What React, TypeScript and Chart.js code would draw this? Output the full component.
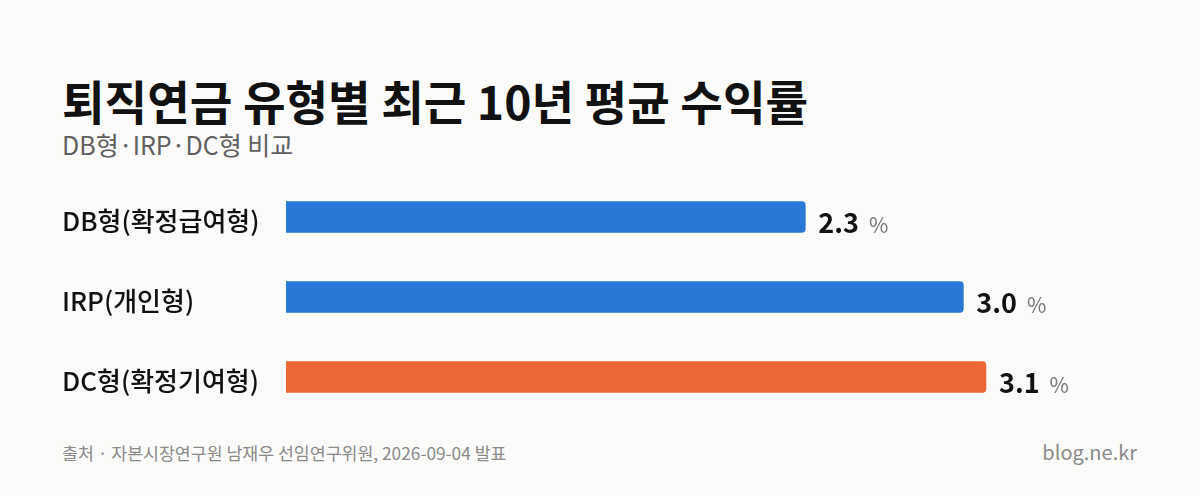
import { useEffect, useRef } from 'react';
import { Chart, registerables } from 'chart.js';

Chart.register(...registerables);

const categories = ['DB형(확정급여형)', 'IRP(개인형)', 'DC형(확정기여형)'];
const returns = [2.3, 3.0, 3.1];
const barColors = ['#2a78d6', '#2a78d6', '#eb6735'];

const FONT = '"Noto Sans CJK KR", "Noto Sans", sans-serif';

// draws "2.3 %" to the right of each bar
const valueLabels = {
  id: 'valueLabels',
  afterDatasetsDraw(chart: Chart) {
    const { ctx } = chart;
    const meta = chart.getDatasetMeta(0);
    ctx.save();
    meta.data.forEach((bar: any, i: number) => {
      const num = returns[i].toFixed(1);
      const x = bar.x + 13;
      const y = bar.y + 16;
      ctx.textBaseline = 'alphabetic';
      ctx.textAlign = 'left';
      ctx.font = `700 27px ${FONT}`;
      ctx.fillStyle = '#111111';
      ctx.fillText(num, x, y);
      const w = ctx.measureText(num).width;
      ctx.font = `400 21px ${FONT}`;
      ctx.fillStyle = '#777777';
      ctx.fillText('%', x + w + 10, y);
    });
    ctx.restore();
  },
};

function ReturnsChart() {
  const chartRef = useRef<HTMLCanvasElement>(null);
  const chartInstance = useRef<Chart | null>(null);

  useEffect(() => {
    if (!chartRef.current) return;
    const ctx = chartRef.current.getContext('2d');
    if (!ctx) return;

    chartInstance.current = new Chart(ctx, {
      type: 'bar',
      data: {
        labels: categories,
        datasets: [
          {
            data: returns,
            backgroundColor: barColors,
            borderRadius: 4,
            barThickness: 31,
          },
        ],
      },
      options: {
        indexAxis: 'y',
        animation: false,
        responsive: false,
        maintainAspectRatio: false,
        layout: { padding: 0 },
        plugins: {
          legend: { display: false },
          tooltip: { enabled: false },
        },
        scales: {
          x: {
            display: false,
            min: 0,
            max: 3.8,
          },
          y: {
            grid: { display: false },
            border: { display: false },
            ticks: {
              crossAlign: 'far',
              padding: 0,
              labelOffset: 4,
              color: '#111111',
              font: { family: FONT, size: 26, weight: 500, lineHeight: 1 },
            },
            afterFit: (scale: any) => {
              scale.width = 224;
            },
          },
        },
      },
      plugins: [valueLabels],
    });

    return () => {
      if (chartInstance.current) {
        chartInstance.current.destroy();
      }
    };
  }, []);

  // 13px extra above and below: half of a tick label's height
  return (
    <canvas
      ref={chartRef}
      width={1082}
      height={266}
      style={{ position: 'absolute', left: 62, top: 164, width: 1082, height: 266 }}
    />
  );
}

export default function App() {
  return (
    <div
      style={{
        position: 'absolute',
        left: 0,
        top: 0,
        width: 1200,
        height: 496,
        background: '#fbfbf9',
        fontFamily: FONT,
        overflow: 'hidden',
      }}
    >
      <div
        style={{
          position: 'absolute',
          left: 62,
          top: 77,
          fontSize: 46.3,
          lineHeight: '46px',
          fontWeight: 700,
          color: '#111111',
          whiteSpace: 'nowrap',
        }}
      >
        퇴직연금 유형별 최근 10년 평균 수익률
      </div>
      <div
        style={{
          position: 'absolute',
          left: 62,
          top: 132,
          fontSize: 25,
          lineHeight: '25px',
          color: '#5f5f5f',
          whiteSpace: 'nowrap',
        }}
      >
        DB형·IRP·DC형 비교
      </div>
      <ReturnsChart />
      <div
        style={{
          position: 'absolute',
          left: 62,
          top: 444,
          fontSize: 17.3,
          lineHeight: '18px',
          color: '#8a8a8a',
          whiteSpace: 'nowrap',
        }}
      >
        출처 · 자본시장연구원 남재우 선임연구위원, 2026-09-04 발표
      </div>
      <div
        style={{
          position: 'absolute',
          right: 63,
          top: 442,
          fontSize: 20,
          lineHeight: '20px',
          color: '#8a8a8a',
          whiteSpace: 'nowrap',
        }}
      >
        blog.ne.kr
      </div>
    </div>
  );
}
